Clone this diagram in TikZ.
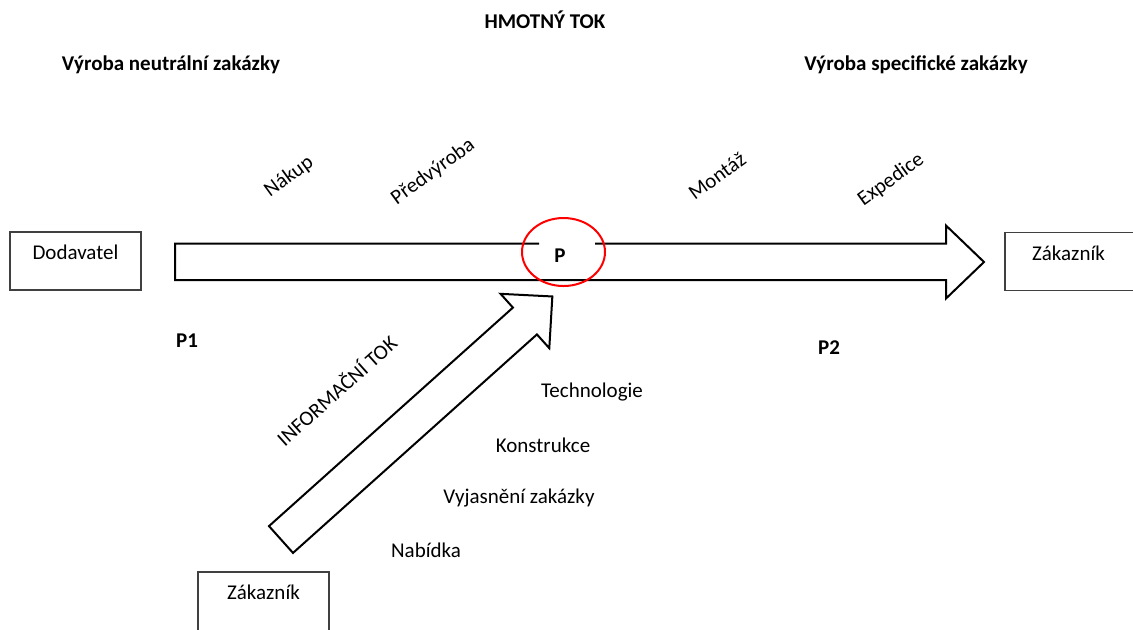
\documentclass[tikz,border=0pt]{standalone}
\usepackage{fontspec}
\setmainfont{Carlito}
\usetikzlibrary{shapes.geometric}

\begin{document}
\begin{tikzpicture}[x=0.5pt, y=-0.5pt,
    every node/.style={font=\fontsize{10.5}{12}\selectfont, inner sep=0pt},
    tucne/.style={font=\fontsize{10.5}{12}\selectfont\bfseries},
    ramec/.style={draw=black!75, line width=0.65pt, minimum width=65.5pt, minimum height=29pt},
    sipka/.style={draw, line width=1pt, line join=miter},
    faze/.style={rotate=36}]
  \useasboundingbox (0,0) rectangle (1133,629);

  \node[tucne] (hmotny) at (545,20) {HMOTNÝ TOK};
  \node[tucne] (neutral) at (171,65) {Výroba neutrální zakázky};
  \node[tucne] (specif) at (916,65) {Výroba specifické zakázky};

  \node[ramec] (dod) at (75.5,261) {};
  \node (dodtxt) at ([yshift=-10.5pt]dod.north) {Dodavatel};
  \node[ramec] (zak1) at (1070.5,261.5) {};
  \node (zak1txt) at ([yshift=-10.5pt,xshift=-1pt]zak1.north) {Zákazník};
  \node[ramec, minimum height=31pt] (zak2) at (263.5,603) {};
  \node (zak2txt) at ([yshift=-10.5pt]zak2.north) {Zákazník};

  \draw[sipka] (539,243.5) -- (175,243.5) -- (175,280) -- (946,280) -- (946,298.5)
    -- (984,262) -- (946,225.5) -- (946,243.5) -- (595,243.5);

  \begin{scope}[shift={(281,539.5)}, rotate=41.85]
    \draw[sipka] (0,-18) -- (327.5,-18) -- (327.5,-36.5) -- (364.3,0)
      -- (327.5,36.5) -- (327.5,18) -- (0,18) -- cycle;
  \end{scope}

  \node[draw=red, line width=1pt, ellipse, minimum width=41.5pt, minimum height=34pt] (kruh) at (563.5,252) {};
  \node[tucne] (p) at (560,256) {P};
  \node[tucne] (p1) at (187,341) {P1};
  \node[tucne] (p2) at (829,348) {P2};

  \foreach \x/\y/\t [count=\i] in {289/177/Nákup, 433/172/Předvýroba, 717/176/Montáž, 891/180/Expedice}{
    \node[faze] (faze\i) at (\x,\y) {\t}; }

  \node[rotate=41.85] (info) at (336,390) {INFORMAČNÍ TOK};
  \foreach \x/\y/\t [count=\i] in {592/392/Technologie, 543/445/Konstrukce, 519/498/Vyjasnění zakázky, 426/550/Nabídka}{
    \node (krok\i) at (\x,\y) {\t}; }
\end{tikzpicture}
\end{document}
